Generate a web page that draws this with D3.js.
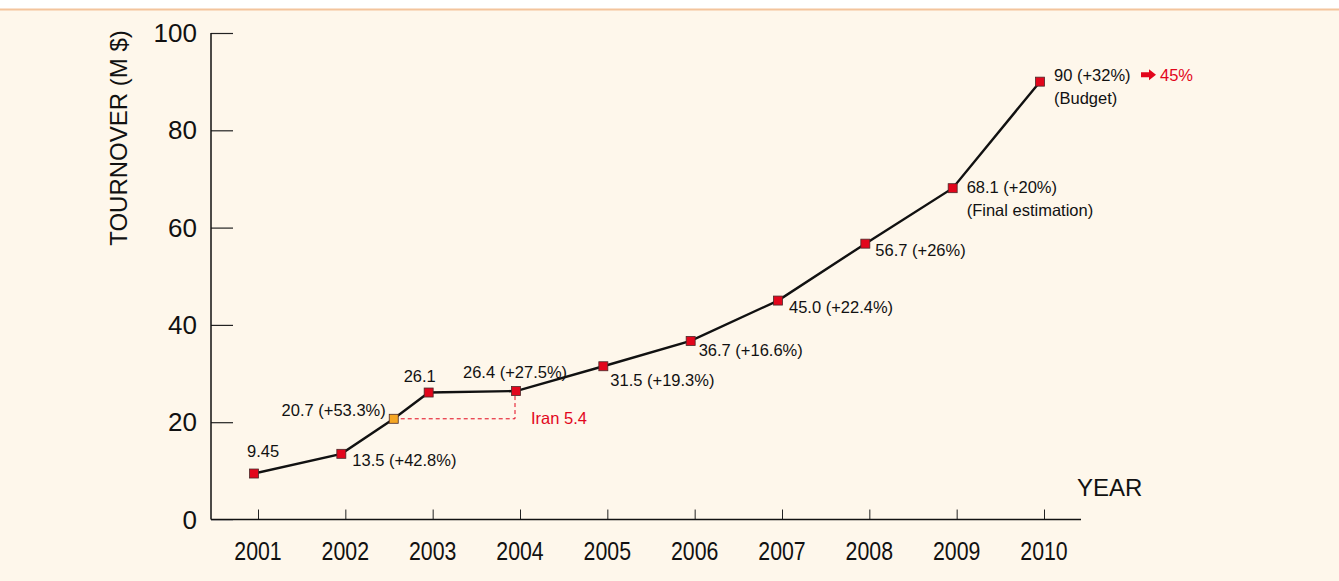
<!DOCTYPE html>
<html>
<head>
<meta charset="utf-8">
<script src="https://cdn.jsdelivr.net/npm/d3@7"></script>
<style>
  html, body { margin: 0; padding: 0; background: #fff; }
  #chart { width: 1339px; height: 581px; }
  text { font-family: "Liberation Sans", Arial, sans-serif; fill: #111; }
</style>
</head>
<body>
<div id="chart"></div>
<script>
const years = [2001, 2002, 2003, 2004, 2005, 2006, 2007, 2008, 2009, 2010];
const turnover = [9.45, 13.5, 26.1, 26.4, 31.5, 36.7, 45.0, 56.7, 68.1, 90];
const pointLabels = ["9.45", "13.5 (+42.8%)", "26.1", "26.4 (+27.5%)", "31.5 (+19.3%)",
  "36.7 (+16.6%)", "45.0 (+22.4%)", "56.7 (+26%)", "68.1 (+20%)", "90 (+32%)"];
const subLabels = ["", "", "", "", "", "", "", "", "(Final estimation)", "(Budget)"];
// mid-2002 acquisition point
const iranYear = 2002.6;
const iranValue = 20.7;
const iranLabel = "20.7 (+53.3%)";
const iranNote = "Iran 5.4";
const budgetNote = "45%";
const yTicks = [0, 20, 40, 60, 80, 100];

// label placement (style only): dx, dy
const labelPos = [
  [-7, -16], [11, 13], [-25, -10], [-53, -12],
  [7, 21], [8, 16], [11, 13], [10, 13],
  [14, 6], [14, 0]
];

const width = 1339, height = 581;
const margin = { top: 33, left: 211, bottom: 61 };
const fs = "16.5px";

const svg = d3.select("#chart").append("svg")
  .attr("width", width)
  .attr("height", height);

svg.append("rect")
  .attr("x", 0).attr("y", 9)
  .attr("width", width).attr("height", height - 9)
  .attr("fill", "#fef7eb");
svg.append("line")
  .attr("x1", 0).attr("x2", width)
  .attr("y1", 9.5).attr("y2", 9.5)
  .attr("stroke", "#f3c49c").attr("stroke-width", 2);

const xScale = d3.scaleLinear()
  .domain([2001, 2010])
  .range([258, 1044]);

const yScale = d3.scaleLinear()
  .domain([0, 100])
  .range([height - margin.bottom - 0.5, margin.top]);

const markOffset = -4;
const px = yr => xScale(yr) + markOffset;

// axes
const yAxisGroup = svg.append("g")
  .attr("transform", `translate(${margin.left}, 0)`)
  .call(d3.axisRight(yScale).tickValues(yTicks).tickSize(22).tickFormat(""));
yAxisGroup.select(".domain").remove();
yAxisGroup.selectAll(".tick line")
  .attr("stroke", (d) => d === 0 ? "#aaa" : "#222")
  .attr("stroke-width", 1.2);
svg.append("line")
  .attr("x1", margin.left).attr("x2", margin.left)
  .attr("y1", yScale(100)).attr("y2", yScale(0))
  .attr("stroke", "#111").attr("stroke-width", 1.5);

svg.selectAll(".ytick-label")
  .data(yTicks)
  .join("text")
  .attr("class", "ytick-label")
  .attr("x", 197)
  .attr("y", d => yScale(d) + 9)
  .attr("text-anchor", "end")
  .style("font-size", "26px")
  .text(d => d);

const xAxisGroup = svg.append("g")
  .attr("transform", `translate(0, ${yScale(0)})`)
  .call(d3.axisTop(xScale).tickValues(years).tickSize(10).tickFormat(""));
xAxisGroup.select(".domain").remove();
xAxisGroup.selectAll(".tick line").attr("stroke", "#222").attr("stroke-width", 1);
svg.append("line")
  .attr("x1", margin.left).attr("x2", 1081)
  .attr("y1", yScale(0)).attr("y2", yScale(0))
  .attr("stroke", "#111").attr("stroke-width", 1.5);

svg.selectAll(".xtick-label")
  .data(years)
  .join("text")
  .attr("class", "xtick-label")
  .attr("x", d => xScale(d))
  .attr("y", 560)
  .attr("text-anchor", "middle")
  .style("font-size", "26px")
  .attr("transform", d => `translate(${xScale(d)},0) scale(0.82,1) translate(${-xScale(d)},0)`)
  .text(d => d);

svg.append("text")
  .attr("x", 1077).attr("y", 496)
  .style("font-size", "24px")
  .text("YEAR");

svg.append("text")
  .attr("transform", "translate(127, 138) rotate(-90)")
  .attr("text-anchor", "middle")
  .style("font-size", "24px")
  .text("TOURNOVER (M $)");

// series incl. acquisition point
const series = years.map((yr, i) => ({ x: yr, y: turnover[i] }));
series.splice(2, 0, { x: iranYear, y: iranValue, iran: true });

// dashed Iran guide
const red = "#e2061c";
svg.append("path")
  .attr("d", `M${px(iranYear)},${yScale(iranValue)} H${px(2004) - 1} V${yScale(turnover[3])}`)
  .attr("fill", "none")
  .attr("stroke", red)
  .attr("stroke-width", 1)
  .attr("stroke-dasharray", "4,3");

svg.append("path")
  .datum(series)
  .attr("fill", "none")
  .attr("stroke", "#111")
  .attr("stroke-width", 2.4)
  .attr("d", d3.line().x(d => px(d.x)).y(d => yScale(d.y)));

svg.selectAll(".marker")
  .data(series)
  .join("rect")
  .attr("class", "marker")
  .attr("x", d => px(d.x) - 4.5)
  .attr("y", d => yScale(d.y) - 4.5)
  .attr("width", 9)
  .attr("height", 9)
  .attr("fill", d => d.iran ? "#f5a623" : red)
  .attr("stroke", "#4a2a2a")
  .attr("stroke-width", 0.8);

// point labels
svg.selectAll(".pt-label")
  .data(years)
  .join("text")
  .attr("class", "pt-label")
  .attr("x", (d, i) => px(d) + labelPos[i][0])
  .attr("y", (d, i) => yScale(turnover[i]) + labelPos[i][1] - 1)
  .style("font-size", fs)
  .text((d, i) => pointLabels[i]);

svg.selectAll(".sub-label")
  .data(years.filter((d, i) => subLabels[i]))
  .join("text")
  .attr("class", "sub-label")
  .attr("x", d => px(d) + labelPos[years.indexOf(d)][0])
  .attr("y", d => {
    const i = years.indexOf(d);
    return yScale(turnover[i]) + labelPos[i][1] + 22;
  })
  .style("font-size", fs)
  .text(d => subLabels[years.indexOf(d)]);

svg.append("text")
  .attr("x", px(iranYear) - 8)
  .attr("y", yScale(iranValue) - 3)
  .attr("text-anchor", "end")
  .style("font-size", fs)
  .text(iranLabel);

svg.append("text")
  .attr("x", px(2004) + 15)
  .attr("y", yScale(iranValue) + 5)
  .style("font-size", fs)
  .style("fill", red)
  .text(iranNote);

// budget arrow + note
const ax = px(2010) + 101, ay = yScale(90) - 7;
svg.append("path")
  .attr("d", `M${ax},${ay - 2.5} h8 v-3 l7,5.5 l-7,5.5 v-3 h-8 z`)
  .attr("fill", red);
svg.append("text")
  .attr("x", ax + 19)
  .attr("y", yScale(90) - 1)
  .style("font-size", fs)
  .style("fill", red)
  .text(budgetNote);
</script>
</body>
</html>
